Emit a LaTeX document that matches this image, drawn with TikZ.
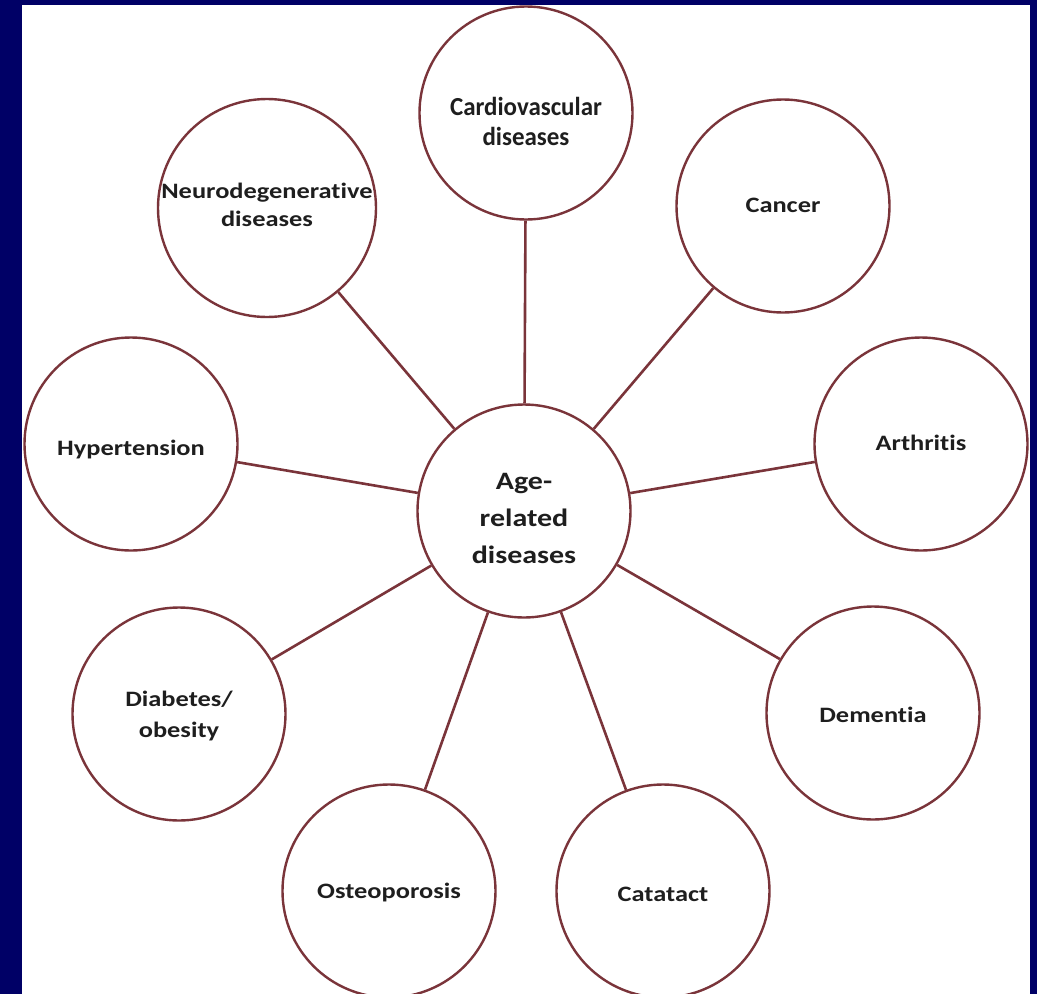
\documentclass[tikz,border=0pt]{standalone}
\usepackage{fontspec}
\setmainfont{Carlito}
\newfontfamily\lblfont[FakeStretch=1.2,Ligatures=NoCommon]{Carlito}
\newfontfamily\cvfont[FakeStretch=0.96,Ligatures=NoCommon]{Carlito}
\definecolor{navy}{RGB}{0,0,102}
\definecolor{ring}{RGB}{122,52,58}
\definecolor{ink}{RGB}{30,30,30}
\begin{document}
\begin{tikzpicture}[x=1pt,y=-1pt,
  disease/.style={circle,draw=ring,line width=2.4pt,fill=white,minimum size=213pt,inner sep=0pt},
  lbl/.style={align=center,text=ink,inner sep=0pt,font=\lblfont\bfseries\fontsize{22}{30}\selectfont},
  hublbl/.style={lbl,font=\lblfont\bfseries\fontsize{25}{37}\selectfont},
  link/.style={draw=ring,line width=2.6pt}]
\useasboundingbox (0,0) rectangle (1037,994);
\clip (0,0) rectangle (1037,994);
\fill[navy] (0,0) rectangle (1037,994);
\fill[white] (22,5) rectangle (1030,994);

\node[disease] (c) at (524,511) {};
\node[disease] (cv) at (526,113) {};
\node[disease] (ca) at (783,206) {};
\node[disease] (ar) at (921,444) {};
\node[disease] (de) at (873,713) {};
\node[disease] (ct) at (663,891) {};
\node[disease] (os) at (389,891) {};
\node[disease] (di) at (179,714) {};
\node[disease] (hy) at (131,444) {};
\node[disease,minimum size=218pt] (ne) at (267,208) {};

\foreach \n in {cv,ca,ar,de,ct,os,di,hy,ne}
  \draw[link] (c) -- (\n);

\node[hublbl] (ct0) at (524,518) {Age-\\related\\diseases};
\node[lbl,font=\cvfont\bfseries\fontsize{26}{30}\selectfont] (cvt) at (526,121) {Cardiovascular\\diseases};
\node[lbl] (cat) at (783,205) {Cancer};
\node[lbl] (art) at (921,443) {Arthritis};
\node[lbl] (det) at (873,715) {Dementia};
\node[lbl] (ctt) at (663,894) {Catatact};
\node[lbl] (ost) at (389,892) {Osteoporosis};
\node[lbl,font=\lblfont\bfseries\fontsize{22}{31}\selectfont] (dit) at (179,716) {Diabetes/\\obesity};
\node[lbl] (hyt) at (131,450) {Hypertension};
\node[lbl,font=\lblfont\bfseries\fontsize{22}{28}\selectfont] (net) at (267,205) {Neurodegenerative\\diseases};
\end{tikzpicture}
\end{document}
